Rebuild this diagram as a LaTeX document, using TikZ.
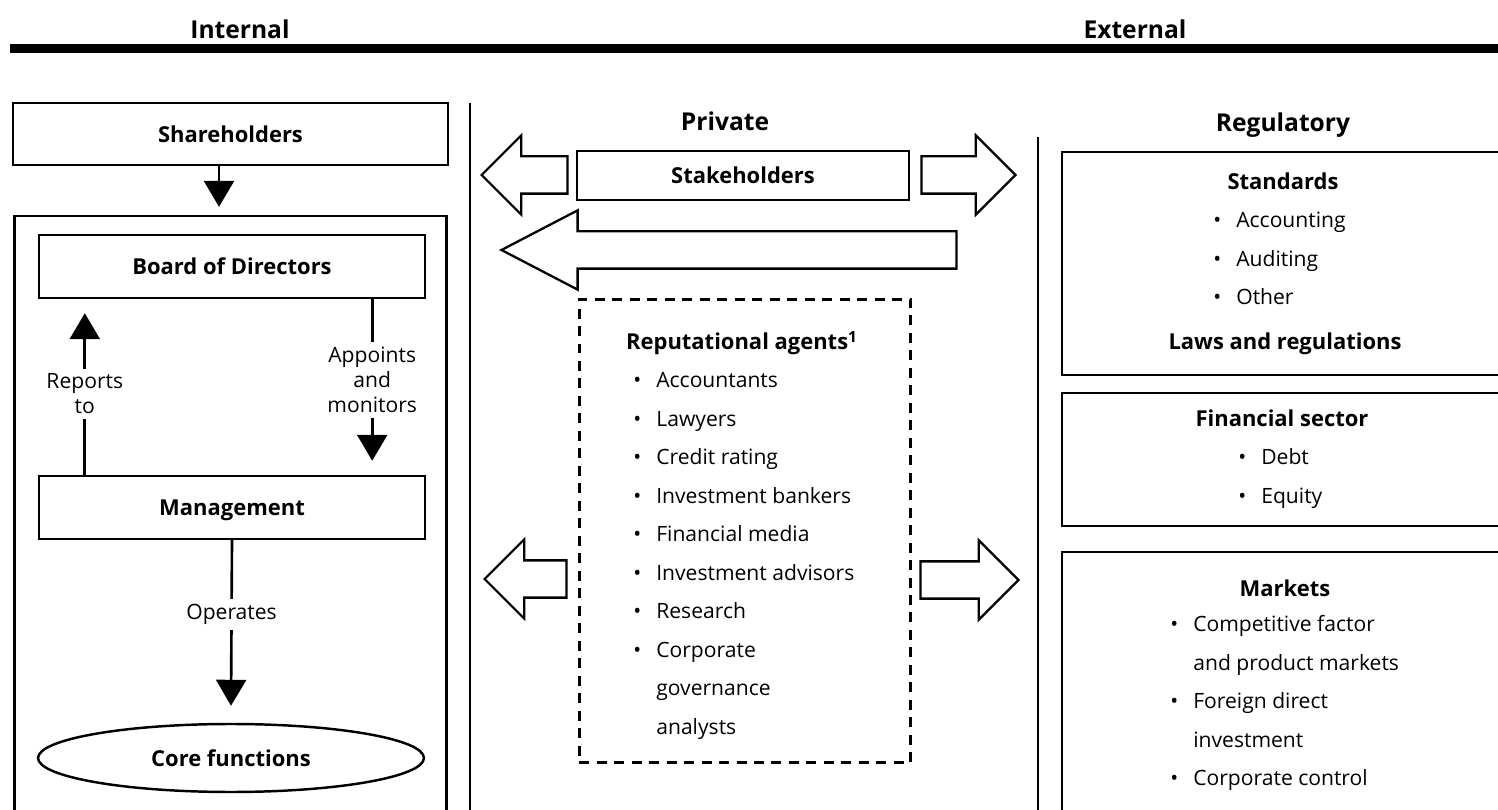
\documentclass[tikz,border=0pt]{standalone}
\usepackage{fontspec}
\setmainfont{Open Sans}
\usepackage{tikz}
\usetikzlibrary{arrows.meta,shapes.geometric,shapes.arrows}

\newcommand{\ttlfont}{\fontsize{14}{17}\selectfont\bfseries}
\newcommand{\hdfont}{\fontsize{12.5}{15}\selectfont\bfseries}
\newcommand{\txfont}{\fontsize{12}{21.9}\selectfont}
\newcommand{\lblfont}{\fontsize{12}{14.2}\selectfont}
% bullet list, one row per line
\newcommand{\blist}[1]{\begin{tabular}[t]{@{}p{0.46cm}@{}l@{}}#1\end{tabular}}

\begin{document}
\begin{tikzpicture}[x=0.02cm, y=-0.02cm,
  ttl/.style={font=\ttlfont, anchor=base},
  hd/.style={font=\hdfont, anchor=base},
  box/.style={draw, line width=1.4pt, font=\hdfont, inner sep=0pt, text depth=0pt},
  lst/.style={font=\txfont, anchor=base west, inner sep=0pt},
  lbl/.style={font=\lblfont, fill=white, align=center, inner sep=3pt},
  arr/.style={line width=1.5pt, -{Triangle[width=0.6cm, length=0.52cm]}},
  blk/.style={single arrow, draw, line width=1.3pt, fill=white, inner sep=0.35cm, single arrow head extend=0.42cm, anchor=tip},
  sep/.style={line width=1.1pt}
]
\useasboundingbox (0,0) rectangle (1498,810);
\clip (0,0) rectangle (1498,810);

% Headings and rule
\node[ttl] (int) at (240,39) {Internal};
\node[ttl] (ext) at (1135,39) {External};
\draw[line width=0.18cm] (10,49) -- (1510,49);

% Internal side
\node[box, minimum width=8.7cm, minimum height=1.24cm] (sh) at (230.5,134) {Shareholders};
\node[box, minimum width=8.64cm, minimum height=12.28cm] (firm) at (230.5,523) {};
\node[box, minimum width=7.72cm, minimum height=1.26cm] (board) at (232,266.5) {Board of Directors};
\node[box, minimum width=7.72cm, minimum height=1.26cm] (mgmt) at (232,507.5) {Management};
\node[box, ellipse, minimum width=7.72cm, minimum height=1.36cm] (core) at (231,758) {Core functions};

\draw[arr] ([xshift=-0.23cm]sh.south) -- ([xshift=-0.23cm, yshift=0.16cm]firm.north);
\draw[arr] ([xshift=0.94cm]mgmt.north west) -- node[lbl]{Reports\\to} ([xshift=0.94cm, yshift=-0.28cm]board.south west);
\draw[arr] ([xshift=-1.08cm]board.south east) -- node[lbl]{Appoints\\and\\monitors} ([xshift=-1.08cm, yshift=0.28cm]mgmt.north east);
\draw[arr] (mgmt.south) -- node[lbl, pos=0.45]{Operates} ([yshift=0.34cm]core.north);

\draw[sep] (470,103) -- (470,830);

% Private
\node[ttl] (priv) at (725,131) {Private};
\node[box, minimum width=6.64cm, minimum height=0.98cm] (stake) at (743,175.5) {Stakeholders};
\node[blk, shape border rotate=180, minimum height=1.72cm] (stakeL) at (480,175) {};
\node[blk, minimum height=1.88cm] (stakeR) at (1017,175) {};
\node[blk, shape border rotate=180, single arrow tip angle=55, minimum height=9.1cm] (back) at (499,250) {};

\node[box, dashed, dash pattern=on 0.2cm off 0.15cm, line width=1.7pt, minimum width=6.64cm, minimum height=9.28cm] (rep) at (745,531) {};
\node[hd] (reptitle) at (742,350) {Reputational agents\textsuperscript{1}};
\node[lst] (replist) at (633,388) {\blist{%
  \textbullet & Accountants\\
  \textbullet & Lawyers\\
  \textbullet & Credit rating\\
  \textbullet & Investment bankers\\
  \textbullet & Financial media\\
  \textbullet & Investment advisors\\
  \textbullet & Research\\
  \textbullet & Corporate\\
              & governance\\
              & analysts}};
\node[blk, shape border rotate=180, minimum height=1.64cm] (repL) at (483,579) {};
\node[blk, minimum height=1.96cm] (repR) at (1020,580) {};

\draw[sep] (1038,137) -- (1038,830);

% Regulatory (boxes run off the right edge)
\node[ttl] (reg) at (1283,132) {Regulatory};

\node[box, minimum width=9.1cm, minimum height=4.46cm] (std) at (1289.5,263.5) {};
\node[hd] (stdtitle) at (1283,190) {Standards};
\node[lst] (stdlist) at (1213,228) {\blist{%
  \textbullet & Accounting\\
  \textbullet & Auditing\\
  \textbullet & Other}};
\node[hd] (laws) at (1285,350) {Laws and regulations};

\node[box, minimum width=9.1cm, minimum height=2.66cm] (fin) at (1289.5,459.5) {};
\node[hd] (fintitle) at (1282,427) {Financial sector};
\node[lst] (finlist) at (1238,465) {\blist{%
  \textbullet & Debt\\
  \textbullet & Equity}};

\node[box, minimum width=9.1cm, minimum height=5.56cm] (mkt) at (1289.5,691) {};
\node[hd] (mkttitle) at (1285,597) {Markets};
\node[lst] (mktlist) at (1170,632) {\blist{%
  \textbullet & Competitive factor\\
              & and product markets\\
  \textbullet & Foreign direct\\
              & investment\\
  \textbullet & Corporate control}};
\end{tikzpicture}
\end{document}
